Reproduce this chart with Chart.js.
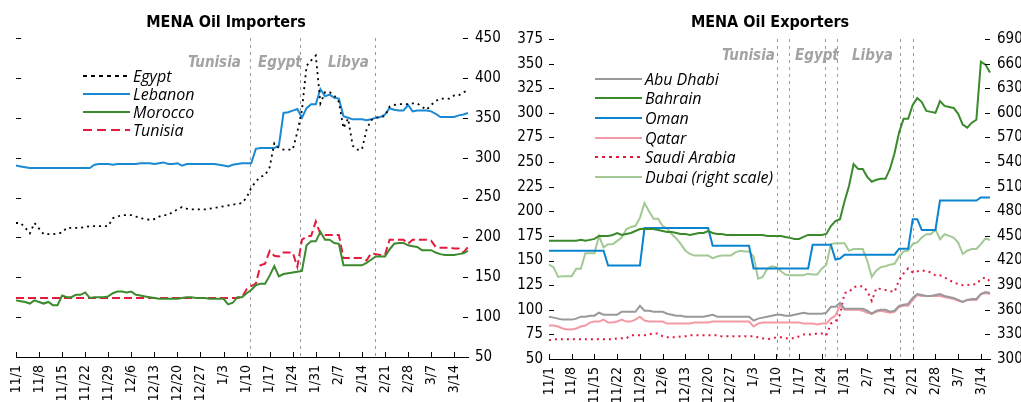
<!DOCTYPE html>
<html><head><meta charset="utf-8">
<script src="https://cdn.jsdelivr.net/npm/chart.js@4"></script>
<style>
body{margin:0;background:#fff;width:1021px;height:402px;overflow:hidden;position:relative;font-family:'Liberation Sans Narrow','DejaVu Sans Condensed',sans-serif;color:#000;}
.box{position:absolute;top:0;height:402px;}
.title{position:absolute;font-weight:bold;font-size:16px;line-height:16px;transform:translateX(-50%);white-space:nowrap;top:14px;}
.ev{position:absolute;font-weight:bold;font-style:italic;font-size:15px;line-height:15px;color:#a3a3a3;white-space:nowrap;}
.legend{position:absolute;font-family:'Open Sans','Noto Sans',sans-serif;font-style:italic;font-size:16px;}
.legend .row{display:flex;align-items:center;white-space:nowrap;}
.legend svg{margin-right:3px;}
</style></head>
<body>
<div class="box" style="left:0;width:510px"><canvas id="c1" width="510" height="402"></canvas></div>
<div class="box" style="left:510px;width:511px"><canvas id="c2" width="511" height="402"></canvas></div>
<div class="title" style="left:226px">MENA Oil Importers</div>
<div class="title" style="left:770px">MENA Oil Exporters</div>
<div class="ev" style="left:188px;top:55px">Tunisia</div>
<div class="ev" style="left:258px;top:55px">Egypt</div>
<div class="ev" style="left:328px;top:55px">Libya</div>
<div class="ev" style="left:722px;top:48px">Tunisia</div>
<div class="ev" style="left:795px;top:48px">Egypt</div>
<div class="ev" style="left:852px;top:48px">Libya</div>
<div class="legend" id="leg1" style="left:83px;top:67px"></div>
<div class="legend" id="leg2" style="left:595px;top:69px"></div>
<script>
// ---- categories (business days, 2010-11-01 .. 2011-03-17)
const dates = [
'11/1','11/2','11/3','11/4','11/5','11/8','11/9','11/10','11/11','11/12',
'11/15','11/16','11/17','11/18','11/19','11/22','11/23','11/24','11/25','11/26',
'11/29','11/30','12/1','12/2','12/3','12/6','12/7','12/8','12/9','12/10',
'12/13','12/14','12/15','12/16','12/17','12/20','12/21','12/22','12/23','12/24',
'12/27','12/28','12/29','12/30','12/31','1/3','1/4','1/5','1/6','1/7',
'1/10','1/11','1/12','1/13','1/14','1/17','1/18','1/19','1/20','1/21',
'1/24','1/25','1/26','1/27','1/28','1/31','2/1','2/2','2/3','2/4',
'2/7','2/8','2/9','2/10','2/11','2/14','2/15','2/16','2/17','2/18',
'2/21','2/22','2/23','2/24','2/25','2/28','3/1','3/2','3/3','3/4',
'3/7','3/8','3/9','3/10','3/11','3/14','3/15','3/16','3/17'];
const importerDates = dates.slice(0, 99);
const exporterDates = dates.slice(0, 98);
const xTickLabels = ['11/1','11/8','11/15','11/22','11/29','12/6','12/13','12/20','12/27','1/3','1/10','1/17','1/24','1/31','2/7','2/14','2/21','2/28','3/7','3/14'];

// ---- MENA oil importers (left axis 50-450)
const egypt = [
218,218,212,205,218,211,204,204,204,205,
206,212,212,212,212,213,214,214,214,214,
214,224,226,228,228,228,226,224,223,222,
223,226,228,228,232,235,238,236,235,235,
235,235,236,237,238,239,240,241,242,243,
250,262,270,276,278,288,318,312,310,310,
310,332,360,415,422,428,368,382,382,378,
370,337,349,315,310,310,335,347,350,351,
352,364,366,367,367,367,368,368,364,360,
366,371,374,374,374,378,378,382,384];
const lebanon = [
290,289,288,287,287,287,287,287,287,287,
287,287,287,287,287,287,287,291,292,292,
292,291,292,292,292,292,292,293,293,293,
292,293,294,292,292,293,290,292,292,292,
292,292,292,292,291,290,289,291,292,293,
293,293,311,312,312,312,312,315,356,357,
359,361,350,362,367,367,386,377,379,375,
374,352,350,348,348,348,347,348,350,351,
354,362,360,359,359,366,358,359,359,359,
358,355,351,351,351,351,353,354,356];
const morocco = [
121,120,119,117,121,119,117,119,115,115,
127,125,125,128,128,131,124,125,125,125,
126,130,132,132,131,132,128,127,126,125,
124,123,123,123,123,123,124,125,125,124,
124,124,123,123,123,123,116,118,125,125,
130,134,140,142,142,152,164,151,154,155,
156,157,158,190,195,195,207,197,197,193,
192,165,165,165,165,165,168,172,176,176,
176,185,192,193,193,190,189,188,184,184,
184,181,179,178,178,178,179,180,183];
const tunisia = [
124,124,124,124,124,124,124,124,124,124,
124,124,124,124,124,124,124,124,124,124,
124,124,124,124,124,124,124,124,124,124,
124,124,124,124,124,124,124,124,124,124,
124,124,124,124,124,124,124,124,124,125,
135,139,142,165,167,183,177,176,181,181,
181,163,197,201,202,220,204,203,203,203,
203,174,174,174,174,174,171,180,179,178,
178,197,197,197,197,192,197,197,197,197,
196,188,187,187,187,186,186,181,188];

// ---- MENA oil exporters (left axis 50-375, Dubai on right axis 300-690)
const abuDhabi = [
93,92,91,90,90,90,91,93,93,94,
94,97,95,95,95,95,98,98,98,98,
104,99,99,98,98,98,96,95,94,94,
93,93,93,93,93,94,95,93,93,93,
93,93,93,93,93,89,91,92,93,94,
95,95,94,94,95,96,97,96,96,96,
96,97,103,103,107,101,101,101,101,101,
99,96,99,100,100,98,99,104,105,106,
112,116,115,114,114,115,116,114,113,112,
110,108,110,111,111,116,118,117];
const bahrain = [
170,170,170,170,170,170,170,171,170,171,
172,175,175,175,176,178,176,177,178,180,
182,182,182,182,181,180,179,179,178,177,
177,176,177,178,178,180,178,177,177,176,
176,176,176,176,176,176,176,176,175,175,
175,175,174,173,172,172,174,176,176,176,
176,177,185,190,192,210,226,248,243,243,
235,230,232,233,233,243,259,280,294,294,
308,315,311,302,301,300,312,307,306,305,
299,288,285,290,293,352,349,341];
const oman = [
160,160,160,160,160,160,160,160,160,160,
160,160,160,145,145,145,145,145,145,145,
145,183,183,183,183,183,183,183,183,183,
183,183,183,183,183,183,165,165,165,165,
165,165,165,165,165,142,142,142,142,142,
142,142,142,142,142,142,142,142,166,166,
166,166,166,151,152,156,156,156,156,156,
156,156,156,156,156,156,156,162,162,162,
192,192,181,181,181,181,211,211,211,211,
211,211,211,211,211,214,214,214];
const qatar = [
84,84,83,81,80,80,81,83,84,87,
88,88,90,87,87,88,90,88,88,90,
93,89,88,88,88,88,86,86,86,86,
86,86,87,87,87,87,88,88,88,88,
88,88,88,88,88,83,86,87,87,87,
87,87,87,87,87,87,86,86,86,85,
86,86,91,94,104,100,100,100,100,99,
97,96,98,99,98,97,98,103,104,104,
110,115,114,114,114,114,114,113,112,111,
109,108,110,110,110,116,117,116];
const saudiArabia = [
69,70,70,70,70,70,70,70,70,70,
70,70,70,70,70,71,71,71,74,74,
74,74,75,76,76,73,72,72,72,73,
73,74,74,74,74,74,74,74,73,73,
73,73,73,73,73,73,72,71,70,71,
72,72,71,71,71,73,75,75,75,76,
76,74,86,88,95,117,118,123,124,124,
119,109,122,121,120,119,118,130,137,142,
138,139,140,139,138,135,135,133,130,128,
126,125,125,126,126,131,133,129];
const dubai = [
415,412,400,401,401,401,410,410,429,429,
429,450,436,440,440,444,448,458,461,462,
472,490,480,471,471,462,459,452,447,440,
432,428,426,426,426,426,423,425,426,426,
426,430,432,431,431,425,398,400,410,413,
412,407,403,402,402,402,402,404,403,403,
410,415,440,441,441,441,432,434,434,434,
420,400,408,412,413,415,416,425,431,432,
440,442,448,452,452,458,446,452,450,448,
442,428,432,434,434,440,447,445];

// event markers (category positions)
const importerEvents = [50.7, 61.5, 77.9];
const exporterEvents = [50.1, 52.8, 60.7, 63.3, 77.2, 80.0];

Chart.defaults.font.family = "'Liberation Sans Narrow','DejaVu Sans Condensed',sans-serif";
Chart.defaults.color = '#000';

const decor = {
  id: 'decor',
  beforeDatasetsDraw(chart, args, o) {
    const {ctx, chartArea: a, scales} = chart;
    ctx.save();
    ctx.strokeStyle = '#9a9a9a'; ctx.lineWidth = 1; ctx.setLineDash([3, 4]);
    o.events.forEach(v => {
      const x = Math.round(scales.x.getPixelForValue(v)) + 0.5;
      ctx.beginPath(); ctx.moveTo(x, a.top); ctx.lineTo(x, a.bottom); ctx.stroke();
    });
    ctx.restore();
  },
  afterDatasetsDraw(chart, args, o) {
    const {ctx, chartArea: a, scales} = chart;
    ctx.save();
    ctx.strokeStyle = '#000'; ctx.lineWidth = 1; ctx.setLineDash([]);
    const L = 5;
    o.left.forEach(id => scales[id].ticks.forEach((t, i) => {
      const y = Math.round(scales[id].getPixelForTick(i)) + 0.5;
      ctx.beginPath(); ctx.moveTo(a.left, y); ctx.lineTo(a.left + L, y); ctx.stroke();
    }));
    o.right.forEach(id => scales[id].ticks.forEach((t, i) => {
      const y = Math.round(scales[id].getPixelForTick(i)) + 0.5;
      ctx.beginPath(); ctx.moveTo(a.right - L, y); ctx.lineTo(a.right, y); ctx.stroke();
    }));
    const labels = chart.data.labels;
    xTickLabels.forEach(lb => {
      const idx = labels.indexOf(lb);
      if (idx < 0) return;
      const x = Math.round(scales.x.getPixelForValue(idx)) + 0.5;
      ctx.beginPath(); ctx.moveTo(x, a.bottom); ctx.lineTo(x, a.bottom - L); ctx.stroke();
    });
    ctx.restore();
  }
};

function line(label, data, color, opts) {
  return Object.assign({label, data, borderColor: color, backgroundColor: color, borderWidth: 2,
    pointRadius: 0, tension: 0, fill: false}, opts || {});
}

function xScale(labels, h) {
  return {
    type: 'category', labels,
    grid: {display: false, drawTicks: false},
    border: {display: true, color: '#000', width: 1},
    ticks: {autoSkip: false, minRotation: 90, maxRotation: 90, padding: 8, font: {size: 14},
      callback: (v, i) => xTickLabels.includes(labels[i]) ? labels[i] : ''},
    afterFit(s) { s.height = h; }
  };
}

function yScale(pos, min, max, step, w, pad) {
  return {
    position: pos, min, max,
    grid: {display: false, drawTicks: false},
    border: {display: false},
    ticks: {stepSize: step, padding: pad, font: {size: 15}},
    afterFit(s) { s.width = w; }
  };
}

const common = {
  responsive: false, animation: false, devicePixelRatio: 1,
  plugins: {legend: {display: false}, tooltip: {enabled: false}}
};

new Chart(document.getElementById('c1'), {
  type: 'line',
  data: {labels: importerDates, datasets: [
    line('Egypt', egypt, '#000', {borderDash: [2, 4], borderWidth: 1.8}),
    line('Lebanon', lebanon, '#1a8ad4'),
    line('Morocco', morocco, '#3c8a2e'),
    line('Tunisia', tunisia, '#e41b3c', {borderDash: [8, 4]})
  ]},
  options: Object.assign({}, common, {
    layout: {padding: {left: 16, top: 38, right: 0, bottom: 0}},
    scales: {x: xScale(importerDates, 45), y: yScale('right', 50, 450, 50, 42, 7)},
    plugins: Object.assign({}, common.plugins, {decor: {events: importerEvents, left: ['y'], right: ['y']}})
  }),
  plugins: [decor]
});

new Chart(document.getElementById('c2'), {
  type: 'line',
  data: {labels: exporterDates, datasets: [
    line('Abu Dhabi', abuDhabi, '#999999', {yAxisID: 'y'}),
    line('Bahrain', bahrain, '#3a8a2c', {yAxisID: 'y'}),
    line('Oman', oman, '#0a84cf', {yAxisID: 'y'}),
    line('Qatar', qatar, '#f39aa6', {yAxisID: 'y'}),
    line('Saudi Arabia', saudiArabia, '#e5173f', {yAxisID: 'y', borderDash: [2, 4]}),
    line('Dubai (right scale)', dubai, '#a3c995', {yAxisID: 'y2'})
  ]},
  options: Object.assign({}, common, {
    layout: {padding: {left: 0, top: 39, right: 0, bottom: 0}},
    scales: {x: xScale(exporterDates, 43), y: yScale('left', 50, 375, 25, 39, 6), y2: yScale('right', 300, 690, 30, 31, 7)},
    plugins: Object.assign({}, common.plugins, {decor: {events: exporterEvents, left: ['y'], right: ['y2']}})
  }),
  plugins: [decor]
});

// ---- HTML legends
function legend(id, items, rowH) {
  const el = document.getElementById(id);
  items.forEach(([name, color, dash]) => {
    const r = document.createElement('div'); r.className = 'row'; r.style.height = rowH + 'px';
    r.innerHTML = '<svg width="47" height="4"><line x1="0" y1="2" x2="47" y2="2" stroke="' + color +
      '" stroke-width="2"' + (dash ? ' stroke-dasharray="' + dash + '"' : '') + '/></svg><span>' + name + '</span>';
    el.appendChild(r);
  });
}
legend('leg1', [['Egypt', '#000', '4 4'], ['Lebanon', '#1a8ad4'], ['Morocco', '#3c8a2e'], ['Tunisia', '#e41b3c', '9 5']], 18);
legend('leg2', [['Abu Dhabi', '#999999'], ['Bahrain', '#3a8a2c'], ['Oman', '#0a84cf'], ['Qatar', '#f39aa6'],
  ['Saudi Arabia', '#e5173f', '3 4'], ['Dubai (right scale)', '#a3c995']], 19.6);
</script>
</body></html>
